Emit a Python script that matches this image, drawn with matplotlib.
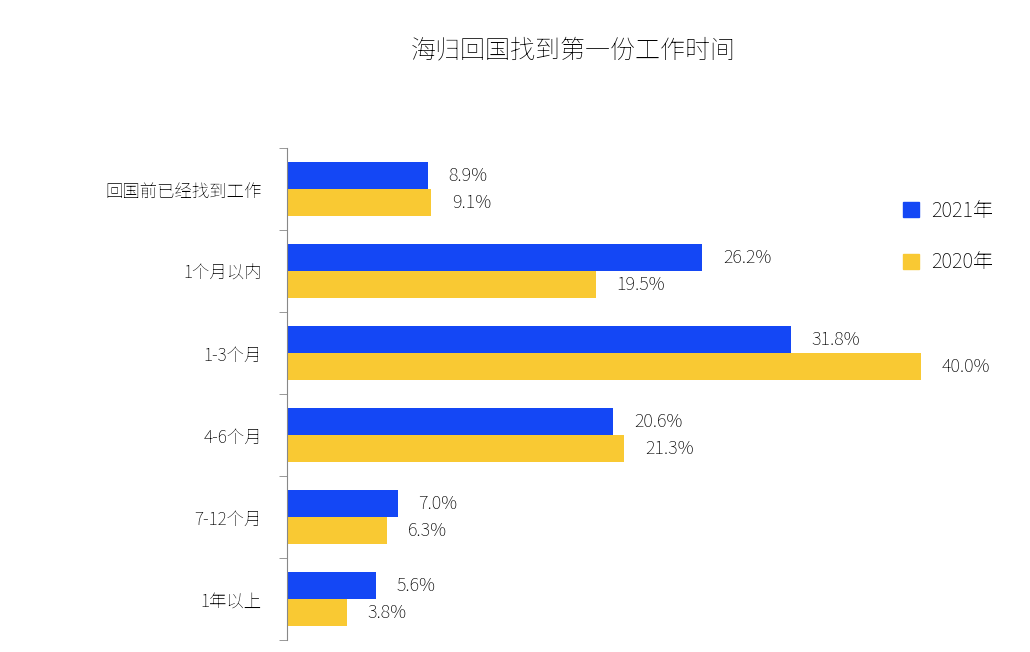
import matplotlib
matplotlib.use("Agg")
import matplotlib.pyplot as plt
from matplotlib import font_manager as fm
import numpy as np
from matplotlib.patches import Patch

cjk = None
for f in fm.findSystemFonts():
    if "NotoSansCJK" in f.replace(" ", "") or "NotoSansSC" in f.replace(" ", ""):
        try:
            fm.fontManager.addfont(f)
            name = fm.FontProperties(fname=f).get_name()
            if cjk is None or "SC" in name:
                cjk = name
        except Exception:
            pass
plt.rcParams["font.family"] = "sans-serif"
plt.rcParams["font.sans-serif"] = [n for n in [cjk, "Noto Sans CJK SC", "Noto Sans CJK JP", "DejaVu Sans"] if n]

categories = ["回国前已经找到工作", "1个月以内", "1-3个月", "4-6个月", "7-12个月", "1年以上"]
v2021 = [8.9, 26.2, 31.8, 20.6, 7.0, 5.6]
v2020 = [9.1, 19.5, 40.0, 21.3, 6.3, 3.8]
series = ["2021年", "2020年"]
colors = ["#1447F5", "#F9C933"]

fig = plt.figure(figsize=(10.3, 6.52), dpi=100)
ax = fig.add_axes([287/1030, 1-640/652, 713/1030, 492/652])
y = np.arange(len(categories))
h = 0.33
b1 = ax.barh(y - h/2, v2021, height=h, color=colors[0])
b2 = ax.barh(y + h/2, v2020, height=h, color=colors[1])
for bars, vals in ((b1, v2021), (b2, v2020)):
    for b, v in zip(bars, vals):
        ax.text(v + 1.3, b.get_y() + b.get_height()/2, f"{v:.1f}%", va="center", ha="left", fontsize=13)
ax.set_xlim(0, 45)
ax.set_ylim(len(categories) - 0.5, -0.5)
ax.set_yticks(y)
ax.set_yticklabels(categories, fontsize=12.5)
ax.tick_params(axis="y", length=0, pad=18)
ax.set_yticks(np.arange(-0.5, len(categories)), minor=True)
ax.tick_params(axis="y", which="minor", length=6, color="#888888")
ax.set_xticks([])
for s in ("top", "right", "bottom"):
    ax.spines[s].set_visible(False)
ax.spines["left"].set_color("#888888")
fig.legend(handles=[Patch(color=c) for c in colors], labels=series, loc="upper left",
           bbox_to_anchor=(885/1030, 1-182/652), frameon=False, fontsize=14.5,
           handlelength=0.8, handleheight=0.8, labelspacing=1.5, handletextpad=0.6)
fig.text(573/1030, 1-50/652, "海归回国找到第一份工作时间", ha="center", va="center", fontsize=18, fontweight="bold")
fig.savefig("out.png", dpi=100)
